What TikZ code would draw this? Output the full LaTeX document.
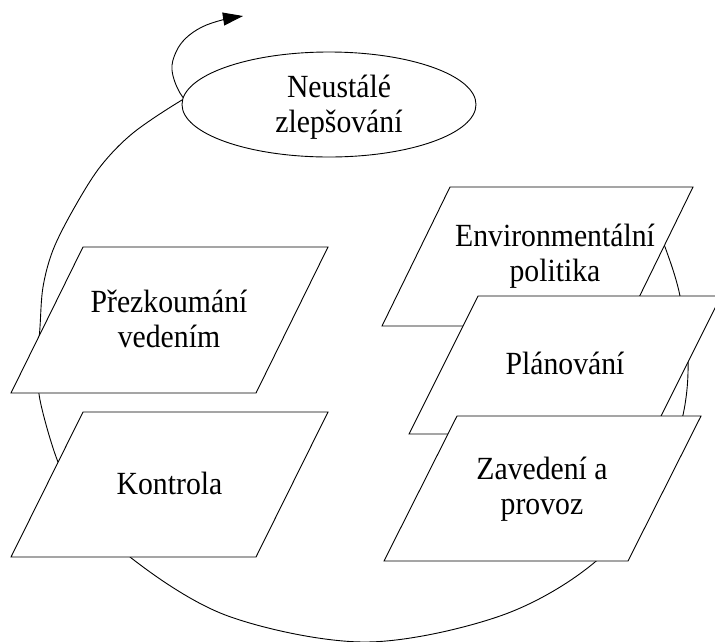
\documentclass[tikz,border=0pt]{standalone}
\usepackage{fontspec}
\setmainfont{Liberation Serif}[FakeStretch=0.92]
\usetikzlibrary{arrows.meta,shapes.geometric}
\begin{document}
\begin{tikzpicture}[x=1pt,y=-1pt,line width=0.9pt,
  box/.style={draw=black,fill=white,line join=miter},
  lbl/.style={align=center,font=\fontsize{32.3}{35}\selectfont,inner sep=0pt},
  cyc/.style={draw=black,line width=0.9pt}]
\useasboundingbox (0,0) rectangle (715,641);
% big cycle curve
\draw[cyc] plot[smooth,tension=0.55] coordinates {
  (645,200) (665,247) (680,296) (688,360) (683,415) (662,480) (595,562)
  (500,616) (365,642) (228,616) (130,557) (80,500) (58,462) (40,400)
  (38,360) (40,327) (43,287) (53,250) (73,210) (100,167) (133,133)
  (182,100) (205,90)};
% loop with arrow
\draw[cyc,-{Triangle[length=20pt,width=13pt]}] plot[smooth,tension=0.6] coordinates {
  (198,115) (180,93) (172,70) (176,52) (186,38) (202,27) (222,20) (243,16)};
% ellipse
\node[ellipse,draw=black,fill=white,minimum width=294pt,minimum height=105pt,inner sep=0pt] (ell) at (329,104.5) {};
\node[lbl] (tell) at (339,107) {Neustálé\\zlepšování};
% left boxes
\filldraw[box] (83,247) -- (328,247) -- (256,393) -- (11,393) -- cycle;
\node[lbl] (tprez) at (169,319) {Přezkoumání\\vedením};
\filldraw[box] (83,412) -- (328,412) -- (256,557) -- (11,557) -- cycle;
\node[lbl,anchor=base] (tkon) at (169.5,494) {Kontrola};
% right boxes
\filldraw[box] (450,187) -- (693,187) -- (625,326) -- (382,326) -- cycle;
\node[lbl] (tenv) at (555,256) {Environmentální\\politika};
\filldraw[box] (478,296) -- (721,296) -- (652,434) -- (409,434) -- cycle;
\node[lbl,anchor=base] (tplan) at (565,374) {Plánování};
\filldraw[box] (457,416) -- (701,416) -- (628,561) -- (384,561) -- cycle;
\node[lbl] (tzav) at (542,489) {Zavedení a\\provoz};
\end{tikzpicture}
\end{document}
